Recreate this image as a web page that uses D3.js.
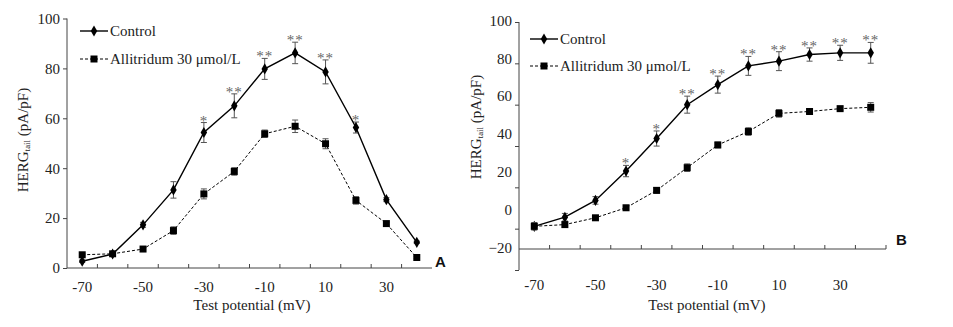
<!DOCTYPE html>
<html>
<head>
<meta charset="utf-8">
<script src="https://cdn.jsdelivr.net/npm/d3@7"></script>
<style>
  body { margin: 0; background: #fff; }
  svg text { font-family: "Liberation Serif", "Times New Roman", Times, "DejaVu Serif", serif !important; }
  svg text.letter { font-family: "Liberation Sans", Arial, sans-serif !important; }
</style>
</head>
<body>
<svg width="953" height="327" font-family="Liberation Serif, serif"></svg>
<script>
// test potentials (mV), one category per step
var potentials = [-70, -60, -50, -40, -30, -20, -10, 0, 10, 20, 30, 40];
var xLabels = [-70, -50, -30, -10, 10, 30];

// panel A
var controlA    = [2.7, 5.6, 17.3, 31.3, 54.3, 65, 79.8, 86.2, 78.6, 56.3, 27.4, 10.3];
var controlAErr = [0.5, 0.5, 1, 3.3, 4, 4.8, 4.2, 4.3, 4.8, 2.2, 0.8, 0.5];
var allitA      = [5.3, 5.7, 7.6, 15, 29.7, 38.7, 53.8, 56.8, 49.8, 27.1, 17.8, 4.2];
var allitAErr   = [0.5, 0.5, 0.8, 1.5, 2, 1.5, 1.5, 2.5, 2, 1.5, 0.5, 0.5];
var starsA      = ["", "", "", "", "*", "**", "**", "**", "**", "*", "", ""];
var yTicksA     = [0, 20, 40, 60, 80, 100];

// panel B
var controlB    = [-8, -3.2, 5.7, 21.2, 38.4, 56.3, 66.9, 76.8, 79.3, 82.8, 83.7, 83.7];
var controlBErr = [1.5, 2, 2, 3, 4, 4.5, 4.5, 5, 5, 3.5, 4, 5.5];
var allitB      = [-8, -7.1, -3.5, 1.8, 11, 23, 35, 42.1, 51.7, 52.7, 54.2, 54.9];
var allitBErr   = [2, 1.5, 1, 1, 1.5, 2, 1.5, 2, 2, 1, 1, 2.5];
var starsB      = ["", "", "", "*", "*", "**", "**", "**", "**", "**", "**", "**"];
var yTicksB     = [-20, 0, 20, 40, 60, 80, 100];

var seriesNames = ["Control", "Allitridum 30 \u03bcmol/L"];

var svg = d3.select("svg");

function drawPanel(p) {
  var g = svg.append("g");
  var x = d3.scaleBand().domain(potentials).range(p.xRange);
  var cx = function(d) { return x(d) + x.bandwidth() / 2; };
  var y = d3.scaleLinear().domain(p.yDomain).range(p.yRange);
  var yTick = p.yTickScale || y;

  // y axis line
  g.append("line").attr("x1", p.xRange[0]).attr("x2", p.xRange[0])
    .attr("y1", p.yAxisTop).attr("y2", p.yAxisBottom)
    .attr("stroke", "#444").attr("stroke-width", 1);

  // y tick marks
  var yt = g.append("g").attr("transform", "translate(" + p.xRange[0] + ",0)")
    .call(d3.axisLeft(yTick).tickValues(p.yTicks).tickSize(4).tickFormat(""));
  yt.select(".domain").remove();
  yt.selectAll("line").attr("stroke", "#444");

  // y tick labels
  var yl = g.append("g").attr("transform", "translate(" + p.xRange[0] + "," + p.yLabelShift + ")")
    .call(d3.axisLeft(y).tickValues(p.yTicks).tickSize(0).tickPadding(7));
  yl.select(".domain").remove();
  yl.attr("font-family", null).attr("font-size", null);
  yl.selectAll("text").attr("font-size", 15).attr("fill", "#222");

  // x axis line
  var xAxisY = y(p.xAxisAt);
  g.append("line").attr("x1", p.xRange[0]).attr("x2", p.xRange[1])
    .attr("y1", xAxisY).attr("y2", xAxisY)
    .attr("stroke", "#444").attr("stroke-width", 1);

  // x tick marks at category boundaries, pointing inward
  g.selectAll(".xtick").data(p.xTickCats).enter().append("line")
    .attr("x1", function(d) { return x(d); }).attr("x2", function(d) { return x(d); })
    .attr("y1", xAxisY).attr("y2", xAxisY - 4)
    .attr("stroke", "#444");

  // x tick labels
  var xl = g.append("g").attr("transform", "translate(0," + p.xLabelY + ")")
    .call(d3.axisBottom(x).tickValues(xLabels).tickSize(0).tickPadding(0));
  xl.select(".domain").remove();
  xl.attr("font-family", null).attr("font-size", null);
  xl.selectAll("text").attr("dy", null).attr("font-size", 15).attr("fill", "#222");

  // axis titles
  g.append("text").attr("x", p.xTitleX).attr("y", 310).attr("text-anchor", "middle")
    .attr("font-size", 15).attr("fill", "#222").text("Test potential (mV)");
  var yt2 = g.append("text")
    .attr("transform", "translate(" + p.yTitleX + "," + p.yTitleY + ") rotate(-90)")
    .attr("text-anchor", "middle").attr("font-size", 15).attr("fill", "#222");
  yt2.append("tspan").text("HERG");
  yt2.append("tspan").attr("font-size", 9).attr("dy", 2).text("tail");
  yt2.append("tspan").attr("dy", -2).text(" (pA/pF)");

  // panel letter
  g.append("text").attr("class", "letter").attr("x", p.letterX).attr("y", p.letterY)
    .attr("font-weight", "bold").attr("font-size", 15).attr("fill", "#111").text(p.letter);

  var series = [
    { vals: p.control, err: p.controlErr, dash: null, width: 1.4, marker: "diamond" },
    { vals: p.allit, err: p.allitErr, dash: "3,2", width: 1, marker: "square" }
  ];

  series.forEach(function(s) {
    var pts = potentials.map(function(v, i) { return { v: v, y: s.vals[i], e: s.err[i] }; });
    // error bars
    var eb = g.append("g").attr("stroke", "#555").attr("stroke-width", 1);
    pts.forEach(function(d) {
      var x0 = cx(d.v), t = y(d.y + d.e), b = y(d.y - d.e);
      eb.append("line").attr("x1", x0).attr("x2", x0).attr("y1", t).attr("y2", b);
      eb.append("line").attr("x1", x0 - 3).attr("x2", x0 + 3).attr("y1", t).attr("y2", t);
      eb.append("line").attr("x1", x0 - 3).attr("x2", x0 + 3).attr("y1", b).attr("y2", b);
    });
    var line = d3.line().x(function(d) { return cx(d.v); }).y(function(d) { return y(d.y); });
    g.append("path").datum(pts).attr("fill", "none").attr("stroke", "#000")
      .attr("stroke-width", s.width).attr("stroke-dasharray", s.dash).attr("d", line);
    var sym = s.marker === "square" ? d3.symbolSquare : d3.symbolDiamond;
    var size = s.marker === "square" ? 49 : 36;
    g.selectAll(null).data(pts).enter().append("path")
      .attr("transform", function(d) { return "translate(" + cx(d.v) + "," + y(d.y) + ")"; })
      .attr("d", d3.symbol().type(sym).size(size)).attr("fill", "#000");
  });

  // significance stars
  g.selectAll(null).data(potentials).enter().append("text")
    .attr("x", function(d) { return cx(d); })
    .attr("y", function(d, i) { return y(p.control[i] + p.controlErr[i]) + 3; })
    .attr("text-anchor", "middle").attr("font-size", 15).attr("fill", "#666")
    .attr("letter-spacing", 1)
    .text(function(d, i) { return p.stars[i]; });

  // legend
  series.forEach(function(s, i) {
    var ly = p.legendY[i];
    g.append("line").attr("x1", p.legendX).attr("x2", p.legendX + 28)
      .attr("y1", ly).attr("y2", ly).attr("stroke", "#000")
      .attr("stroke-width", s.width).attr("stroke-dasharray", s.dash);
    g.append("path").attr("transform", "translate(" + (p.legendX + 14) + "," + ly + ")")
      .attr("d", d3.symbol().type(s.marker === "square" ? d3.symbolSquare : d3.symbolDiamond)
        .size(s.marker === "square" ? 49 : 36)).attr("fill", "#000");
    g.append("text").attr("x", p.legendX + 30).attr("y", ly + 5)
      .attr("font-size", 15).attr("fill", "#222").text(seriesNames[i]);
  });
}

drawPanel({
  xRange: [67, 432], yDomain: [0, 100], yRange: [268, 18.5],
  yAxisTop: 18.5, yAxisBottom: 268, yTicks: yTicksA, yLabelShift: 0, xAxisAt: 0,
  xTickCats: potentials.slice(1), xLabelY: 292,
  xTitleX: 252, yTitleX: 28, yTitleY: 140,
  letter: "A", letterX: 435, letterY: 267,
  control: controlA, controlErr: controlAErr, allit: allitA, allitErr: allitAErr, stars: starsA,
  legendX: 80, legendY: [31, 59]
});

drawPanel({
  xRange: [519, 886], yDomain: [-20, 100], yRange: [249, 22],
  yTickScale: d3.scaleLinear().domain([-20, 100]).range([270, 22]),
  yAxisTop: 22, yAxisBottom: 270, yTicks: yTicksB, yLabelShift: -1.5, xAxisAt: -20,
  xTickCats: potentials.slice(1), xLabelY: 290,
  xTitleX: 707, yTitleX: 481, yTitleY: 127,
  letter: "B", letterX: 896, letterY: 245,
  control: controlB, controlErr: controlBErr, allit: allitB, allitErr: allitBErr, stars: starsB,
  legendX: 530, legendY: [39, 66]
});

// end tick of panel B x axis
svg.append("line").attr("x1", 886).attr("x2", 886).attr("y1", 249).attr("y2", 245).attr("stroke", "#444");
</script>
</body>
</html>
